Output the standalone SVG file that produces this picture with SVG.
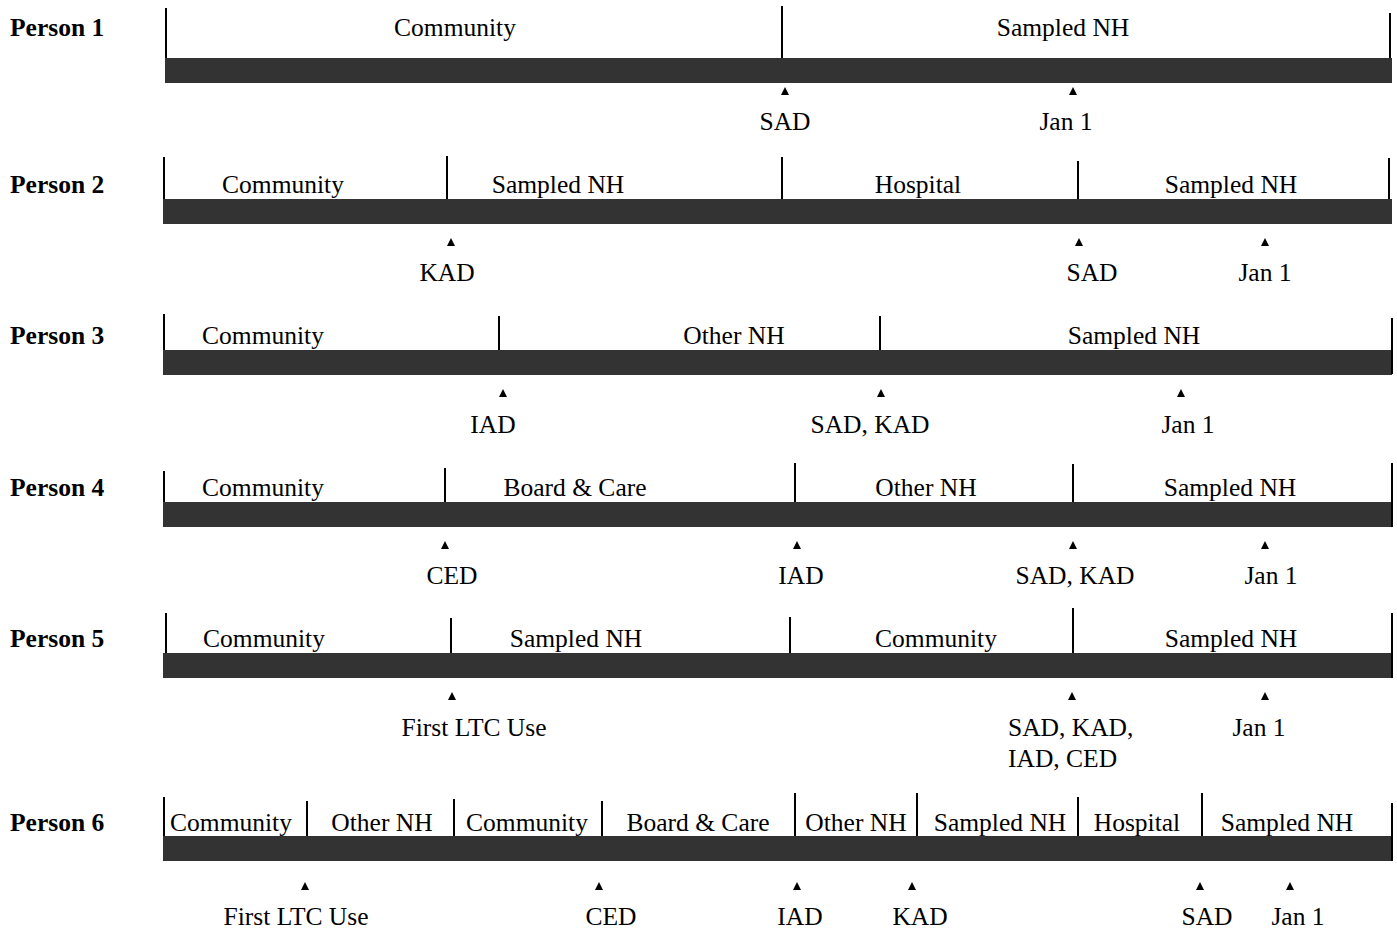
<svg xmlns="http://www.w3.org/2000/svg" xmlns:xlink="http://www.w3.org/1999/xlink" width="1397" height="932" viewBox="0 0 1397 932">
  <style>
    text { font-family: "Liberation Serif", "Times New Roman", serif; font-size: 25.5px; fill: #000; }
    .seg { text-anchor: middle; }
    .evt { text-anchor: middle; }
    .evt-l { text-anchor: start; }
    .who { font-weight: bold; text-anchor: start; }
    .bar { fill: #333333; }
    .tick { stroke: #000; stroke-width: 2; fill: none; }
    .mark { fill: #000; }
  </style>
  <defs>
    <!-- small upward pointer marking an event date; origin at its base centre -->
    <path id="tri" class="mark" d="M0,-8 L4,0 L-4,0 Z"/>
  </defs>

  <rect width="1397" height="932" fill="#fff"/>

  <!-- Person 1 -->
  <g id="person1">
    <text class="who" x="10" y="36">Person 1</text>
    <rect class="bar" x="165" y="58" width="1227" height="25"/>
    <line class="tick" x1="166" y1="8" x2="166" y2="58"/>
    <line class="tick" x1="782" y1="6" x2="782" y2="58"/>
    <line class="tick" x1="1390" y1="13" x2="1390" y2="58"/>
    <text class="seg" x="455" y="36">Community</text>
    <text class="seg" x="1063" y="36">Sampled NH</text>
    <use xlink:href="#tri" x="785" y="95"/>
    <use xlink:href="#tri" x="1073" y="95"/>
    <text class="evt" x="785" y="130">SAD</text>
    <text class="evt" x="1066" y="130">Jan 1</text>
  </g>

  <!-- Person 2 -->
  <g id="person2">
    <text class="who" x="10" y="193">Person 2</text>
    <rect class="bar" x="163" y="199" width="1229" height="25"/>
    <line class="tick" x1="164" y1="157" x2="164" y2="199"/>
    <line class="tick" x1="447" y1="156" x2="447" y2="199"/>
    <line class="tick" x1="782" y1="157" x2="782" y2="199"/>
    <line class="tick" x1="1078" y1="161" x2="1078" y2="199"/>
    <line class="tick" x1="1389" y1="158" x2="1389" y2="199"/>
    <text class="seg" x="283" y="193">Community</text>
    <text class="seg" x="558" y="193">Sampled NH</text>
    <text class="seg" x="918" y="193">Hospital</text>
    <text class="seg" x="1231" y="193">Sampled NH</text>
    <use xlink:href="#tri" x="451" y="246"/>
    <use xlink:href="#tri" x="1079" y="246"/>
    <use xlink:href="#tri" x="1265" y="246"/>
    <text class="evt" x="447" y="281">KAD</text>
    <text class="evt" x="1092" y="281">SAD</text>
    <text class="evt" x="1265" y="281">Jan 1</text>
  </g>

  <!-- Person 3 -->
  <g id="person3">
    <text class="who" x="10" y="344">Person 3</text>
    <rect class="bar" x="163" y="350" width="1229" height="25"/>
    <line class="tick" x1="164" y1="314" x2="164" y2="350"/>
    <line class="tick" x1="499" y1="316" x2="499" y2="350"/>
    <line class="tick" x1="880" y1="316" x2="880" y2="350"/>
    <line class="tick" x1="1392" y1="318" x2="1392" y2="374"/>
    <text class="seg" x="263" y="344">Community</text>
    <text class="seg" x="734" y="344">Other NH</text>
    <text class="seg" x="1134" y="344">Sampled NH</text>
    <use xlink:href="#tri" x="503" y="397"/>
    <use xlink:href="#tri" x="881" y="397"/>
    <use xlink:href="#tri" x="1181" y="397"/>
    <text class="evt" x="493" y="433">IAD</text>
    <text class="evt" x="870" y="433">SAD, KAD</text>
    <text class="evt" x="1188" y="433">Jan 1</text>
  </g>

  <!-- Person 4 -->
  <g id="person4">
    <text class="who" x="10" y="496">Person 4</text>
    <rect class="bar" x="163" y="502" width="1229" height="25"/>
    <line class="tick" x1="164" y1="471" x2="164" y2="502"/>
    <line class="tick" x1="445" y1="468" x2="445" y2="502"/>
    <line class="tick" x1="795" y1="463" x2="795" y2="502"/>
    <line class="tick" x1="1073" y1="464" x2="1073" y2="502"/>
    <line class="tick" x1="1392" y1="463" x2="1392" y2="527"/>
    <text class="seg" x="263" y="496">Community</text>
    <text class="seg" x="575" y="496">Board &amp; Care</text>
    <text class="seg" x="926" y="496">Other NH</text>
    <text class="seg" x="1230" y="496">Sampled NH</text>
    <use xlink:href="#tri" x="445" y="549"/>
    <use xlink:href="#tri" x="797" y="549"/>
    <use xlink:href="#tri" x="1073" y="549"/>
    <use xlink:href="#tri" x="1265" y="549"/>
    <text class="evt" x="452" y="584">CED</text>
    <text class="evt" x="801" y="584">IAD</text>
    <text class="evt" x="1075" y="584">SAD, KAD</text>
    <text class="evt" x="1271" y="584">Jan 1</text>
  </g>

  <!-- Person 5 -->
  <g id="person5">
    <text class="who" x="10" y="647">Person 5</text>
    <rect class="bar" x="163" y="653" width="1229" height="25"/>
    <line class="tick" x1="166" y1="613" x2="166" y2="653"/>
    <line class="tick" x1="451" y1="618" x2="451" y2="653"/>
    <line class="tick" x1="790" y1="617" x2="790" y2="653"/>
    <line class="tick" x1="1073" y1="608" x2="1073" y2="653"/>
    <line class="tick" x1="1392" y1="613" x2="1392" y2="678"/>
    <text class="seg" x="264" y="647">Community</text>
    <text class="seg" x="576" y="647">Sampled NH</text>
    <text class="seg" x="936" y="647">Community</text>
    <text class="seg" x="1231" y="647">Sampled NH</text>
    <use xlink:href="#tri" x="452" y="700"/>
    <use xlink:href="#tri" x="1072" y="700"/>
    <use xlink:href="#tri" x="1265" y="700"/>
    <text class="evt" x="474" y="736">First LTC Use</text>
    <text class="evt-l" x="1008" y="736">SAD, KAD,</text>
    <text class="evt-l" x="1008" y="767">IAD, CED</text>
    <text class="evt" x="1259" y="736">Jan 1</text>
  </g>

  <!-- Person 6 -->
  <g id="person6">
    <text class="who" x="10" y="831">Person 6</text>
    <rect class="bar" x="163" y="836" width="1230" height="25"/>
    <line class="tick" x1="164" y1="797" x2="164" y2="836"/>
    <line class="tick" x1="307" y1="801" x2="307" y2="836"/>
    <line class="tick" x1="454" y1="799" x2="454" y2="836"/>
    <line class="tick" x1="602" y1="801" x2="602" y2="836"/>
    <line class="tick" x1="795" y1="793" x2="795" y2="836"/>
    <line class="tick" x1="917" y1="793" x2="917" y2="836"/>
    <line class="tick" x1="1078" y1="797" x2="1078" y2="836"/>
    <line class="tick" x1="1202" y1="793" x2="1202" y2="836"/>
    <line class="tick" x1="1392" y1="803" x2="1392" y2="861"/>
    <text class="seg" x="231" y="831">Community</text>
    <text class="seg" x="382" y="831">Other NH</text>
    <text class="seg" x="527" y="831">Community</text>
    <text class="seg" x="698" y="831">Board &amp; Care</text>
    <text class="seg" x="856" y="831">Other NH</text>
    <text class="seg" x="1000" y="831">Sampled NH</text>
    <text class="seg" x="1137" y="831">Hospital</text>
    <text class="seg" x="1287" y="831">Sampled NH</text>
    <use xlink:href="#tri" x="305" y="890"/>
    <use xlink:href="#tri" x="599" y="890"/>
    <use xlink:href="#tri" x="797" y="890"/>
    <use xlink:href="#tri" x="912" y="890"/>
    <use xlink:href="#tri" x="1200" y="890"/>
    <use xlink:href="#tri" x="1290" y="890"/>
    <text class="evt" x="296" y="925">First LTC Use</text>
    <text class="evt" x="611" y="925">CED</text>
    <text class="evt" x="800" y="925">IAD</text>
    <text class="evt" x="920" y="925">KAD</text>
    <text class="evt" x="1207" y="925">SAD</text>
    <text class="evt" x="1298" y="925">Jan 1</text>
  </g>
</svg>
